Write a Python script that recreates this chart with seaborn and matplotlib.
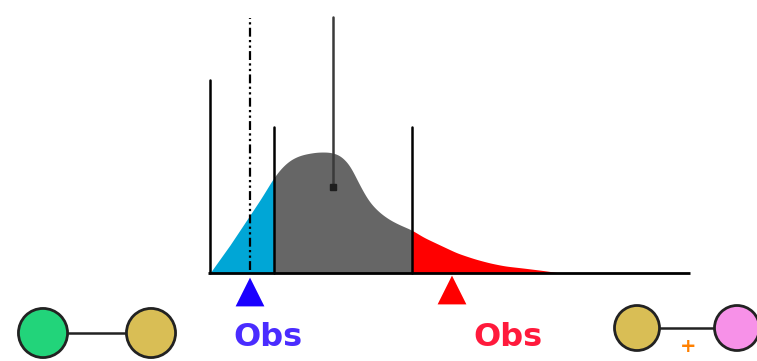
import numpy as np
import pandas as pd
import matplotlib
matplotlib.use("Agg")
import matplotlib.pyplot as plt
import seaborn as sns

sns.set_theme(style="white")
plt.rcParams['font.family'] = ['DejaVu Sans']

# density curve (x position, height above baseline)
curve_x = [210, 220, 230, 240, 250, 262, 274, 282, 290, 298, 305, 317, 330, 340, 350, 357,
           365, 370, 380, 390, 400, 412, 423, 440, 457, 475, 490, 505, 523, 547, 560]
curve_h = [0, 14, 28, 43, 58, 76, 96, 106, 113, 117, 119, 121, 121, 118, 108, 93,
           78, 70, 60, 53, 48, 43, 36, 28, 20, 14, 10, 7, 5, 2, 0]
lower_cut = 274
upper_cut = 412
observed = [250, 452]
obs_labels = ["Obs", "Obs"]

xs = np.array(curve_x, float)
hs = np.array(curve_h, float)

fig = plt.figure(figsize=(7.57, 3.61), dpi=100)
ax = fig.add_axes([0, 0, 1, 1])
ax.set_xlim(0, 757)
ax.set_ylim(-88, 273)
ax.axis("off")

# smoothed curve on a fine grid
fx = np.arange(200, 575, 0.5)
fh = np.interp(fx, xs, hs, left=0, right=0)
k = np.exp(-0.5 * (np.arange(-12, 12.5, 0.5) / 4.0) ** 2)
k /= k.sum()
fh = np.convolve(fh, k, mode="same")
fh[fx < 210] = 0
# keep left edge sharp (curve starts at baseline at x=210)
mask_left = fx <= 250
fh[mask_left] = np.interp(fx[mask_left], xs, hs)
sel = fx >= 210

ax.fill_between(fx[sel], 0, fh[sel], where=fx[sel] <= lower_cut + 0.5, color="#00a6d6", lw=0)
ax.fill_between(fx[sel], 0, fh[sel], where=(fx[sel] >= lower_cut - 0.5) & (fx[sel] <= upper_cut + 0.5), color="#666666", lw=0)
ax.fill_between(fx[sel], 0, fh[sel], where=fx[sel] >= upper_cut - 0.5, color="#ff0000", lw=0)

# baseline axis
ax.plot([208, 690], [0, 0], color="black", lw=2.0, solid_capstyle="butt")

# vertical lines
ax.plot([210, 210], [0, 193], color="black", lw=1.8)
ax.plot([lower_cut, lower_cut], [0, 146], color="black", lw=1.8)
ax.plot([upper_cut, upper_cut], [0, 146], color="black", lw=1.8)
ax.plot([250, 250], [3, 255], color="black", lw=1.6, dashes=(4, 1.5, 1, 1.5, 1, 1.5))
ax.plot([333, 333], [86, 256], color="#3a3a3a", lw=1.8)
ax.plot([333], [86], marker="s", ms=4.5, color="#1e1e1e")

# observed triangles
sns.scatterplot(x=[observed[0]], y=[-19], marker="^", s=430, color="#1a00ff", edgecolor="none", ax=ax, legend=False)
sns.scatterplot(x=[observed[1]], y=[-17], marker="^", s=430, color="#ff0000", edgecolor="none", ax=ax, legend=False)

ax.text(268, -65, obs_labels[0], color="#4a2cff", fontsize=23, fontweight="bold", ha="center", va="center")
ax.text(508, -64, obs_labels[1], color="#ff1a3c", fontsize=23, fontweight="bold", ha="center", va="center")

# molecule-like circles
ax.plot([43, 151], [-60, -60], color="#222222", lw=1.8, zorder=2)
sns.scatterplot(x=[43, 151], y=[-60, -60], hue=["a", "b"], palette=["#22d47a", "#d9be55"],
                s=1250, edgecolor="#222222", linewidth=2, ax=ax, legend=False, zorder=3)
ax.plot([637, 737], [-55, -55], color="#222222", lw=1.8, zorder=2)
sns.scatterplot(x=[637, 737], y=[-55, -55], hue=["a", "b"], palette=["#d9be55", "#f791e8"],
                s=1050, edgecolor="#222222", linewidth=2, ax=ax, legend=False, zorder=3)
ax.text(688, -73, "+", color="#ff8000", fontsize=14, fontweight="bold", ha="center", va="center")
ax.text(103, -97, "o", color="#4a4aff", fontsize=16, fontweight="bold", ha="center", va="center", clip_on=True)

fig.savefig("out.png", dpi=100)
